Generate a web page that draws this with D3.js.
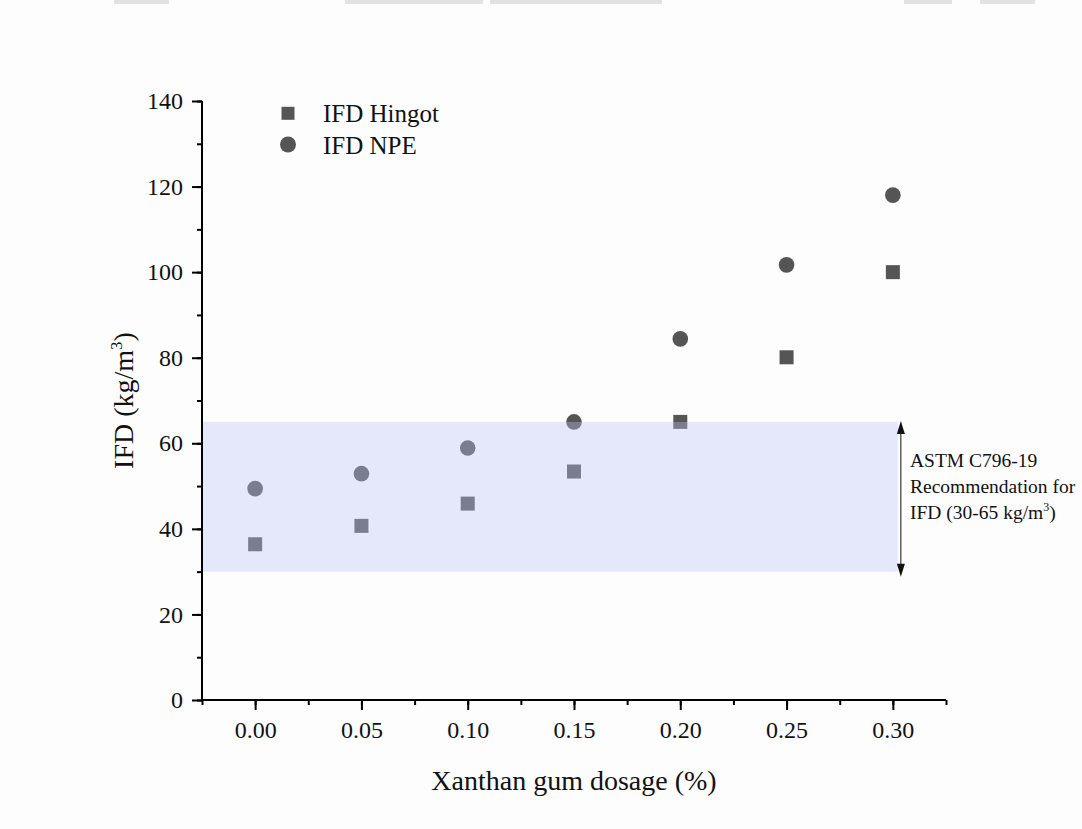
<!DOCTYPE html>
<html>
<head>
<meta charset="utf-8">
<script src="https://cdn.jsdelivr.net/npm/d3@7"></script>
<style>
	body { margin: 0; background: #fff; }
	text { font-family: "Liberation Serif", "Times New Roman", serif; fill: #111; }
</style>
</head>
<body>
<div id="chart"></div>
<script>
// data
var dosage = [0.0, 0.05, 0.1, 0.15, 0.2, 0.25, 0.3];
var ifdHingot = [36.4, 40.7, 45.9, 53.4, 65.0, 80.1, 100.0];
var ifdNPE = [49.4, 52.9, 58.9, 65.0, 84.4, 101.7, 118.0];
var xTicks = [0.0, 0.05, 0.1, 0.15, 0.2, 0.25, 0.3];
var yTicks = [0, 20, 40, 60, 80, 100, 120, 140];
var bandRange = [30, 65];
var seriesNames = ["IFD Hingot", "IFD NPE"];

var width = 1082, height = 829;
var margin = { top: 101, right: 136, bottom: 129, left: 202 };

var svg = d3.select("#chart").append("svg")
	.attr("width", width).attr("height", height);
svg.append("rect").attr("width", width).attr("height", height).attr("fill", "#fdfdfd");

// faint bits of the page above the figure
[[114, 55], [345, 138], [490, 172], [904, 48], [980, 55]].forEach(function (s) {
	svg.append("rect").attr("x", s[0]).attr("y", 0).attr("width", s[1]).attr("height", 4)
		.attr("fill", "#e2e2e2");
});

var x = d3.scaleLinear().domain([-0.025, 0.325]).range([margin.left, width - margin.right]);
var y = d3.scaleLinear().domain([0, 140]).range([height - margin.bottom, margin.top]);

// markers
var pts = dosage.map(function (d, i) { return { x: d, h: ifdHingot[i], n: ifdNPE[i] }; });
var ink = "#555555";
svg.append("g").selectAll("rect").data(pts).enter().append("rect")
	.attr("x", d => x(d.x) - 7).attr("y", d => y(d.h) - 7)
	.attr("width", 14).attr("height", 14).attr("fill", ink);
svg.append("g").selectAll("circle").data(pts).enter().append("circle")
	.attr("cx", d => x(d.x)).attr("cy", d => y(d.n)).attr("r", 7.8).attr("fill", ink);

// ASTM band drawn on top, semi transparent
var bandRight = x(0.3) + 5;
svg.append("rect")
	.attr("x", x.range()[0] + 1).attr("y", y(bandRange[1]))
	.attr("width", bandRight - x.range()[0] - 1)
	.attr("height", y(bandRange[0]) - y(bandRange[1]))
	.attr("fill", "rgb(187,196,247)").attr("opacity", 0.37);

// double arrow
var ax = bandRight + 3;
svg.append("line").attr("x1", ax).attr("x2", ax)
	.attr("y1", y(bandRange[1]) + 4).attr("y2", y(bandRange[0]) + 1)
	.attr("stroke", "#111").attr("stroke-width", 1);
svg.append("path")
	.attr("d", `M${ax},${y(bandRange[1]) - 1} l-4,13 l8,0 z`).attr("fill", "#111");
svg.append("path")
	.attr("d", `M${ax},${y(bandRange[0]) + 5} l-4,-13 l8,0 z`).attr("fill", "#111");

var note = svg.append("text").attr("font-size", "19.5px");
note.append("tspan").attr("x", 910).attr("y", 467).text("ASTM C796-19");
note.append("tspan").attr("x", 910).attr("y", 493).text("Recommendation for");
var l3 = svg.append("text").attr("font-size", "19.5px").attr("x", 910).attr("y", 519);
l3.append("tspan").text("IFD (30-65 kg/m");
l3.append("tspan").attr("dy", -8).attr("font-size", "12px").text("3");
l3.append("tspan").attr("dy", 8).text(")");

// axes
var xAxis = svg.append("g").attr("transform", `translate(0,${y(0)})`);
xAxis.call(d3.axisBottom(x).tickValues(d3.range(-0.025, 0.33, 0.025)).tickSize(5).tickFormat(""));
xAxis.selectAll(".tick line").attr("stroke-width", 2);
var xMaj = svg.append("g").attr("transform", `translate(0,${y(0)})`)
	.call(d3.axisBottom(x).tickValues(xTicks).tickSize(10).tickPadding(11).tickFormat(d3.format(".2f")));
xMaj.select(".domain").remove();
xMaj.selectAll(".tick line").attr("stroke-width", 2);
xMaj.selectAll(".tick text").attr("font-size", "24px").attr("font-family", "Liberation Serif").attr("fill", "#111");
xAxis.select(".domain").attr("stroke-width", 2).attr("d", `M${x.range()[0]},0H${x.range()[1]}`);

var yAxis = svg.append("g").attr("transform", `translate(${x.range()[0]},0)`);
yAxis.call(d3.axisLeft(y).tickValues(d3.range(0, 141, 10)).tickSize(5).tickFormat(""));
yAxis.selectAll(".tick line").attr("stroke-width", 2);
yAxis.select(".domain").attr("stroke-width", 2).attr("d", `M0,${y(140)}V${y(0)}`);
var yMaj = svg.append("g").attr("transform", `translate(${x.range()[0]},0)`)
	.call(d3.axisLeft(y).tickValues(yTicks).tickSize(10).tickPadding(9));
yMaj.select(".domain").remove();
yMaj.selectAll(".tick line").attr("stroke-width", 2);
yMaj.selectAll(".tick text").attr("font-size", "24px").attr("font-family", "Liberation Serif").attr("fill", "#111");

// axis titles
svg.append("text").attr("text-anchor", "middle").attr("font-size", "28px")
	.attr("x", x(0.15)).attr("y", 790).text("Xanthan gum dosage (%)");
var yt = svg.append("text").attr("text-anchor", "middle").attr("font-size", "28px")
	.attr("transform", `translate(133,${y(70)}) rotate(-90)`);
yt.append("tspan").text("IFD (kg/m");
yt.append("tspan").attr("dy", -11).attr("font-size", "17px").text("3");
yt.append("tspan").attr("dy", 11).text(")");

// legend
var legend = svg.append("g").attr("transform", "translate(288,0)");
legend.append("rect").attr("x", -6.5).attr("y", 106.8).attr("width", 13).attr("height", 13).attr("fill", ink);
legend.append("circle").attr("cx", 0).attr("cy", 144.5).attr("r", 8).attr("fill", ink);
seriesNames.forEach(function (name, i) {
	legend.append("text").attr("x", 35).attr("y", 122 + i * 31.5).attr("font-size", "25px").text(name);
});
</script>
</body>
</html>
